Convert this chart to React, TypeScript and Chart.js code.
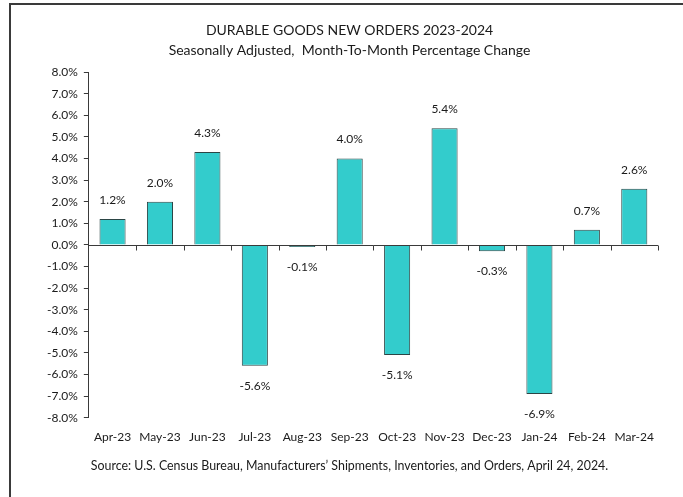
import React, { useEffect, useRef } from 'react';
import { Chart, registerables } from 'chart.js';
Chart.register(...registerables);

const categories = ['Apr-23', 'May-23', 'Jun-23', 'Jul-23', 'Aug-23', 'Sep-23', 'Oct-23', 'Nov-23', 'Dec-23', 'Jan-24', 'Feb-24', 'Mar-24'];
const values = [1.2, 2.0, 4.3, -5.6, -0.1, 4.0, -5.1, 5.4, -0.3, -6.9, 0.7, 2.6];
const yMin = -8;
const yMax = 8;
const yStep = 1;
const titleLines = ['DURABLE GOODS NEW ORDERS 2023-2024', 'Seasonally Adjusted,  Month-To-Month Percentage Change'];
const sourceText = 'Source: U.S. Census Bureau, Manufacturers\u2019 Shipments, Inventories, and Orders, April 24, 2024.';

const FONT = 'Lato, "Open Sans", sans-serif';
const TEXT = '#1a1a1a';
const LINE = '#3a3a3a';

const framePlugin = {
  id: 'frame',
  beforeDraw(chart: any) {
    const { ctx, width, height } = chart;
    ctx.save();
    ctx.fillStyle = '#ffffff';
    ctx.fillRect(0, 0, width, height);
    ctx.strokeStyle = LINE;
    ctx.lineWidth = 2;
    ctx.beginPath();
    ctx.moveTo(10, height);
    ctx.lineTo(10, 4);
    ctx.lineTo(width, 4);
    ctx.stroke();
    ctx.restore();
  },
};

const zeroAxisPlugin = {
  id: 'zeroAxis',
  afterDatasetsDraw(chart: any) {
    const { ctx, chartArea, scales } = chart;
    const y0 = Math.round(scales.y.getPixelForValue(0)) + 0.5;
    const n = categories.length;
    const w = (chartArea.right - chartArea.left) / n;
    ctx.save();
    ctx.strokeStyle = LINE;
    ctx.lineWidth = 1;
    ctx.beginPath();
    ctx.moveTo(chartArea.left, y0);
    ctx.lineTo(chartArea.right, y0);
    for (let i = 1; i <= n; i++) {
      const x = Math.round(chartArea.left + i * w) + 0.5;
      ctx.moveTo(x, y0);
      ctx.lineTo(x, y0 + 5);
    }
    ctx.stroke();
    ctx.restore();
  },
};

const labelPlugin = {
  id: 'valueLabels',
  afterDatasetsDraw(chart: any) {
    const { ctx } = chart;
    const meta = chart.getDatasetMeta(0);
    ctx.save();
    ctx.font = `12px ${FONT}`;
    ctx.fillStyle = TEXT;
    ctx.textAlign = 'center';
    ctx.textBaseline = 'middle';
    meta.data.forEach((bar: any, i: number) => {
      const v = values[i];
      const y = v >= 0 ? bar.y - 19 : bar.y + 20;
      ctx.fillText(v.toFixed(1) + '%', bar.x, y);
    });
    ctx.restore();
  },
};

export default function App() {
  const ref = useRef<HTMLCanvasElement>(null);
  useEffect(() => {
    if (!ref.current) return;
    const chart = new Chart(ref.current, {
      type: 'bar',
      data: {
        labels: categories,
        datasets: [
          {
            data: values,
            backgroundColor: '#33CCCC',
            borderColor: '#2b4545',
            borderWidth: 1,
            barPercentage: 0.55,
            categoryPercentage: 1,
          },
        ],
      },
      options: {
        responsive: false,
        animation: false,
        layout: { padding: { left: 41, right: 25, top: 0, bottom: 0 } },
        plugins: {
          legend: { display: false },
          tooltip: { enabled: false },
          title: {
            display: true,
            text: titleLines,
            color: TEXT,
            font: { family: FONT, size: 14, weight: 'normal', lineHeight: 1.43 },
            padding: { top: 20, bottom: 12 },
          },
          subtitle: {
            display: true,
            position: 'bottom',
            text: sourceText,
            color: TEXT,
            font: { family: FONT, size: 12.4, weight: 'normal' },
            padding: { top: 2, bottom: 24 },
          },
        },
        scales: {
          x: {
            grid: { display: false, drawTicks: false },
            border: { display: false },
            ticks: { color: TEXT, font: { family: FONT, size: 12 }, padding: 12, maxRotation: 0, autoSkip: false },
          },
          y: {
            min: yMin,
            max: yMax,
            border: { display: true, color: LINE },
            grid: { drawOnChartArea: false, drawTicks: true, tickLength: 5, color: LINE },
            ticks: {
              stepSize: yStep,
              color: TEXT,
              font: { family: FONT, size: 12 },
              padding: 6,
              callback: (v: any) => Number(v).toFixed(1) + '%',
            },
          },
        },
      },
      plugins: [framePlugin, zeroAxisPlugin, labelPlugin],
    });
    return () => chart.destroy();
  }, []);
  return (
    <div style={{ position: 'fixed', left: 0, top: 0, width: 683, height: 497 }}>
      <canvas ref={ref} width={683} height={497} style={{ width: 683, height: 497, display: 'block' }} />
    </div>
  );
}
